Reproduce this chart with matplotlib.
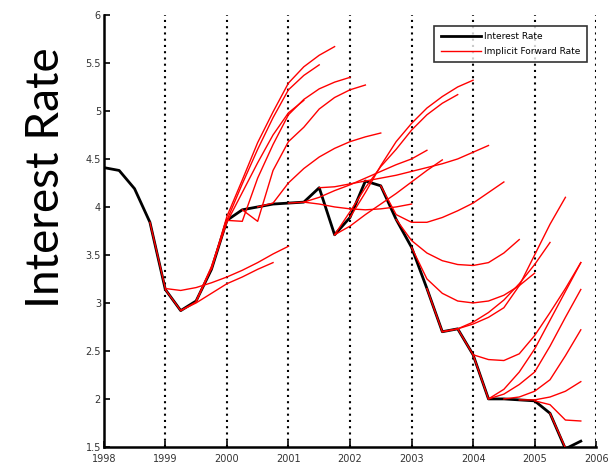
import matplotlib
matplotlib.use("Agg")
import matplotlib.pyplot as plt
import numpy as np

# quarterly interest rate, 1998.0 .. 2005.75
rate_start = 1998.0
rate = [4.41, 4.38, 4.19, 3.84, 3.14, 2.92, 3.02, 3.35,
        3.86, 3.97, 4.00, 4.03, 4.04, 4.05, 4.20, 3.71,
        3.89, 4.27, 4.22, 3.87, 3.58, 3.15, 2.70, 2.73,
        2.46, 2.00, 2.00, 1.99, 1.98, 1.85, 1.48, 1.56]

# implicit forward curves: start date and quarterly values
fwd_start = [1998.75, 1999.0, 1999.25, 1999.5, 1999.75, 2000.0, 2000.25, 2000.5,
             2001.0, 2001.25, 2001.5, 2001.75, 2001.75, 2002.0, 2002.5, 2002.75,
             2003.0, 2003.25, 2003.5, 2003.75, 2004.0, 2004.25, 2004.5, 2004.75,
             2005.0, 2005.25]
fwd_values = [
    [3.84, 3.15, 3.13, 3.16, 3.21, 3.27, 3.34, 3.42, 3.51, 3.59],
    [3.14, 2.92, 3.00, 3.10, 3.20, 3.27, 3.35, 3.42],
    [2.92, 3.01, 3.36, 3.84, 4.15, 4.46, 4.75, 4.98, 5.11],
    [3.02, 3.38, 3.86, 4.24, 4.60, 4.93, 5.22, 5.37, 5.48],
    [3.35, 3.90, 4.28, 4.67, 4.99, 5.29, 5.46, 5.58, 5.67],
    [3.86, 3.85, 4.30, 4.65, 4.96, 5.12, 5.23, 5.30, 5.35],
    [3.97, 3.85, 4.38, 4.68, 4.83, 5.02, 5.14, 5.22, 5.27],
    [4.00, 4.04, 4.25, 4.40, 4.52, 4.61, 4.68, 4.73, 4.77],
    [4.04, 4.05, 4.03, 4.00, 3.98, 3.97, 3.98, 4.00, 4.03],
    [4.05, 4.10, 4.17, 4.23, 4.30, 4.37, 4.44, 4.50, 4.59],
    [4.20, 4.21, 4.24, 4.27, 4.30, 4.33, 4.37, 4.41, 4.45, 4.50, 4.57, 4.64],
    [3.71, 3.95, 4.20, 4.42, 4.60, 4.80, 4.96, 5.08, 5.17],
    [3.71, 3.80, 3.92, 4.03, 4.14, 4.26, 4.38, 4.49],
    [3.89, 4.15, 4.43, 4.68, 4.87, 5.03, 5.15, 5.25, 5.32],
    [4.22, 3.92, 3.84, 3.84, 3.89, 3.96, 4.04, 4.15, 4.26],
    [3.87, 3.65, 3.52, 3.44, 3.40, 3.39, 3.42, 3.52, 3.66],
    [3.58, 3.25, 3.10, 3.02, 3.00, 3.02, 3.08, 3.18, 3.31],
    [3.15, 2.70, 2.73, 2.80, 2.90, 3.03, 3.20, 3.40, 3.63],
    [2.70, 2.73, 2.78, 2.85, 2.95, 3.18, 3.50, 3.82, 4.10],
    [2.73, 2.46, 2.00, 2.10, 2.28, 2.52, 2.82, 3.12, 3.42],
    [2.46, 2.41, 2.40, 2.47, 2.66, 2.90, 3.15, 3.42],
    [2.00, 2.05, 2.15, 2.28, 2.55, 2.85, 3.14],
    [2.00, 2.02, 2.08, 2.20, 2.45, 2.72],
    [1.99, 1.99, 2.02, 2.08, 2.18],
    [1.98, 1.94, 1.78, 1.77],
    [1.85, 1.49],
]

years = [1998, 1999, 2000, 2001, 2002, 2003, 2004, 2005, 2006]
yticks = [1.5, 2, 2.5, 3, 3.5, 4, 4.5, 5, 5.5, 6]

fig = plt.figure(figsize=(6.14, 4.67), dpi=100)
ax = fig.add_axes([0.169, 0.043, 0.802, 0.925])

t_rate = rate_start + 0.25 * np.arange(len(rate))
ax.plot(t_rate, rate, color="black", lw=2.0, label="Interest Rate", zorder=2)

for k, (s, v) in enumerate(zip(fwd_start, fwd_values)):
    t = s + 0.25 * np.arange(len(v))
    ax.plot(t, v, color="red", lw=1.0, zorder=3,
            label="Implicit Forward Rate" if k == 0 else None)

for yr in years[1:]:
    ax.axvline(yr, color="black", ls=(0, (1, 2)), lw=1.5, zorder=1)

ax.set_xlim(1998, 2006)
ax.set_ylim(1.5, 6)
ax.set_xticks(years)
ax.set_yticks(yticks)
ax.set_yticklabels([f"{y:g}" for y in yticks])
ax.tick_params(direction="in", length=4, width=1.2, labelsize=7,
               labelcolor="#333333")
ax.tick_params(axis="x", pad=5)
ax.tick_params(axis="y", pad=2)
ax.spines["top"].set_visible(False)
ax.spines["right"].set_visible(False)
ax.spines["left"].set_linewidth(1.8)
ax.spines["bottom"].set_linewidth(1.8)

leg = ax.legend(loc="upper right", bbox_to_anchor=(0.99, 0.985), fontsize=6.5,
                frameon=True, fancybox=False, edgecolor="black",
                handlelength=4.5, borderpad=0.7, labelspacing=0.6,
                handletextpad=0.3)
leg.get_frame().set_linewidth(1.2)

fig.text(0.075, 0.62, "Interest Rate", rotation=90, fontsize=33,
         family="Lato", ha="center", va="center")

fig.savefig("out.png", dpi=100)
